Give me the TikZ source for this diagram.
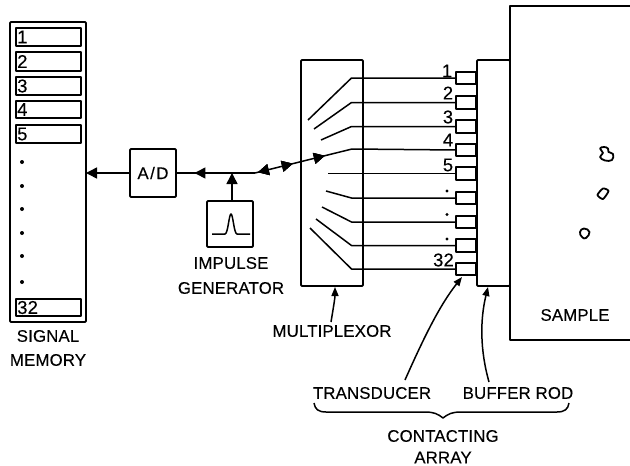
\documentclass[tikz,border=0pt]{standalone}
\usepackage{fontspec}
\setmainfont{Liberation Sans}[LetterSpace=1,FakeBold=0.2]
\usetikzlibrary{arrows.meta,decorations.markings,decorations.pathreplacing}
\tikzset{
  box/.style={draw,line width=1.9pt,inner sep=0pt,outer sep=0pt,rounded corners=1pt},
  slot/.style={draw,line width=1.4pt,inner sep=0pt,outer sep=0pt,minimum width=65pt},
  trans/.style={draw,line width=1.9pt,inner sep=0pt,outer sep=0pt,minimum width=20pt,minimum height=12.5pt},
  lab/.style={inner sep=0pt,font=\fontsize{16.8}{18}\selectfont},
  digit/.style={inner sep=0pt,font=\fontsize{18.5}{20}\selectfont},
  wire/.style={line width=1.5pt},
  tip/.style={-{Triangle[length=11pt,width=11pt]}},
  smalltip/.style={-{Triangle[length=9pt,width=7pt]}},
  midtip/.style={postaction={decorate},decoration={markings,mark=at position #1 with {\arrow{Triangle[length=11pt,width=11pt]}}}},
  midtiprev/.style={postaction={decorate},decoration={markings,mark=at position #1 with {\arrowreversed{Triangle[length=11pt,width=11pt]}}}},
  flaw/.style={line width=1.8pt},
  dotmark/.style={circle,fill,inner sep=0pt,minimum size=4pt}
}
\begin{document}
\begin{tikzpicture}[x=1pt,y=-1pt,line join=round]
\useasboundingbox (0,0) rectangle (630,466);
% signal memory
\node[box,minimum width=76pt,minimum height=300pt] (mem) at (48,172) {};
\foreach \n/\t/\h/\s in {s1/1/18/37,s2/2/19/61.5,s3/3/18/86,s4/4/17/109.5,s5/5/18/134,s32/32/17/307.5}{
  \node[slot,minimum height=\h pt] (\n) at (48.5,\s) {};
  \node[digit,anchor=west] at (17,\s) {\t};
}
\foreach \y in {162,186,209,233,256,282} \node[dotmark] at (22,\y) {};
\node[lab] (mem1) at (48,336) {SIGNAL};
\node[lab] (mem2) at (48,360) {MEMORY};
% A/D
\node[box,minimum width=46pt,minimum height=48pt,lab] (ad) at (153,173) {A\kern1.5pt/\kern1.5pt D};
\coordinate (j) at (232,173);
\coordinate (bend) at (255,173);
\coordinate (mx) at (352,149);
\node[box,minimum width=46pt,minimum height=46pt] (imp) at (230,224) {};
\draw[wire] (212,234) -- (225,234) .. controls (228,234) and (229,214) .. (231,214) .. controls (233,214) and (234,234) .. (237,234) -- (250,234);
\node[lab] (imp1) at (231,263) {IMPULSE};
\node[lab] (imp2) at (231,288) {GENERATOR};
% multiplexor, buffer, sample
\node[box,minimum width=62pt,minimum height=226pt] (mux) at (332,173) {};
\node[box,minimum width=33pt,minimum height=226pt] (buf) at (493.5,173) {};
\draw[line width=1.9pt] (630,6) -- (510,6) -- (510,340) -- (630,340);
\node[lab] (smp) at (575,315) {SAMPLE};
% transducers and wires
\foreach \n/\y/\sx/\sy in {1/78/308/120,2/102.5/314/129,3/126.5/321/140,5/173.5/328/173.5,6/198/326/191,7/222/322/207,8/245.5/316/219,9/269/310/228}{
  \node[trans] (t\n) at (466,\y) {};
  \coordinate (a\n) at (\sx,\sy);
  \coordinate (b\n) at (351.5,\y);
  \draw[wire] (a\n) -- (b\n) -- (t\n.west);
}
\node[trans] (t4) at (466,150) {};
% main line
\draw[wire,tip] (ad.west) -- (ad.west -| mem.east);
\draw[wire,midtiprev=0.33] (ad.east) -- (j);
\draw[wire,tip] (imp.north -| j) -- (j);
\draw[wire] (j) -- (bend);
\draw[wire,midtiprev=0.03,midtip=0.39,midtip=0.72] (bend) -- (mx);
\draw[wire] (mx) -- (t4.west);
% channel labels
\foreach \t/\x/\y in {1/447/71,2/448/93,3/448/117,4/448/140,5/448/165,32/443.5/260}
  \node[digit] at (\x,\y) {\t};
\foreach \y in {191,214.5,239} \node[dotmark,minimum size=3.4pt] at (447,\y) {};
% flaws
\draw[flaw] plot[smooth cycle,tension=0.7] coordinates {(600,148.5)(604,147)(608,148.5)(608.5,152)(613,154)(612,160)(605,160.5)(600,157)(603,153)};
\draw[flaw] plot[smooth cycle,tension=0.4] coordinates {(597.5,195)(603,188.5)(608.5,191)(603,199)};
\draw[flaw] plot[smooth cycle,tension=0.8] coordinates {(580,232)(584,228.5)(589.5,232)(586,238)(582,237)};
% callouts
\node[lab] (lmux) at (332,331) {MULTIPLEXOR};
\node[lab] (ltr) at (372,393) {TRANSDUCER};
\node[lab] (lbuf) at (518,393) {BUFFER ROD};
\node[lab] (lca) at (443,436) {CONTACTING};
\node[lab] (lar) at (443,457.5) {ARRAY};
\coordinate (cm) at (331,322);
\coordinate (ct) at (405,380);
\coordinate (cb) at (489,382);
\draw[wire,smalltip] (cm) .. controls (333,310) and (335,298) .. (335,287);
\draw[wire,smalltip] (ct) .. controls (425,335) and (440,305) .. (462,277);
\draw[wire,smalltip] (cb) .. controls (480,350) and (480,320) .. (488,287);
\coordinate (bl) at (314,403);
\coordinate (br) at (569,403);
\coordinate (bt) at (443,418);
\draw[wire] (bl) .. controls (315,409) and (318,412) .. (326,412) -- (425,412) .. controls (434,412) and (438,414) .. (bt) .. controls (448,414) and (452,412) .. (461,412) -- (557,412) .. controls (565,412) and (568,409) .. (br);
\end{tikzpicture}
\end{document}
